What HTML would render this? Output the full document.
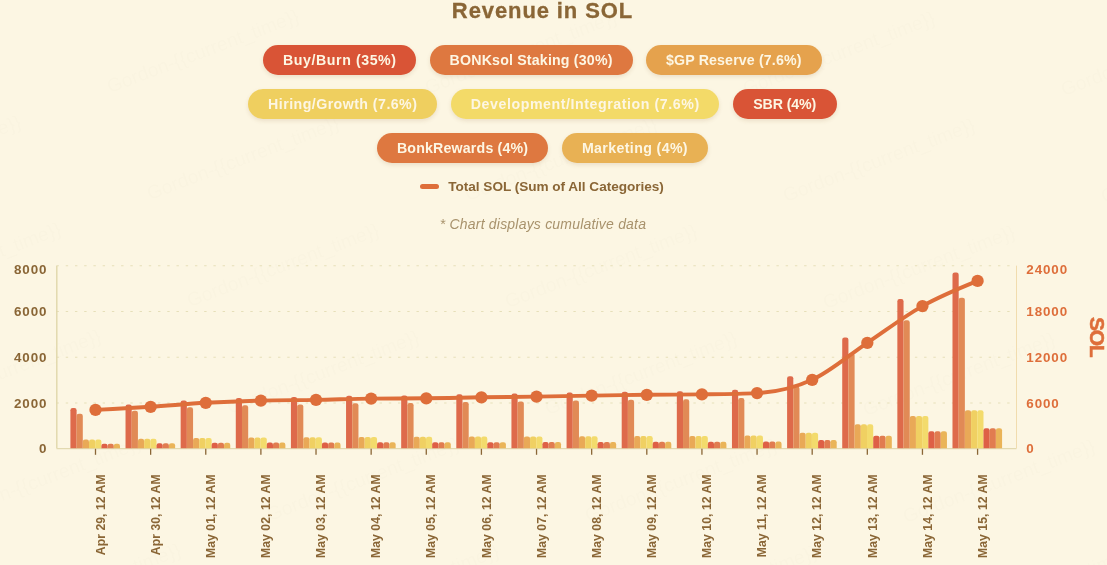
<!DOCTYPE html>
<html lang="en"><head><meta charset="utf-8"><title>Revenue in SOL</title>
<style>
html,body{margin:0;padding:0}
body{width:1107px;height:565px;overflow:hidden;position:relative;background:#fcf6e3;font-family:"Liberation Sans",sans-serif;}
.title{position:absolute;left:0;width:1085px;top:-3px;text-align:center;font-weight:bold;font-size:22px;line-height:28px;color:#8a6636;letter-spacing:0.9px;-webkit-text-stroke:0.3px #8a6636;white-space:nowrap}
.pill{position:absolute;height:30px;border-radius:15px;color:#fdf6e3;font-weight:bold;font-size:14.2px;line-height:30.8px;text-align:center;white-space:nowrap;box-shadow:0 2px 4px rgba(120,80,20,0.13)}
.legend{position:absolute;left:448.3px;top:178px;font-weight:bold;font-size:13.6px;line-height:18px;color:#8a6636;white-space:nowrap;letter-spacing:-0.03px}
.lmark{position:absolute;left:420px;top:184px;width:18.5px;height:5px;border-radius:2.5px;background:#de6e3a}
.note{position:absolute;left:439.8px;top:214.5px;font-style:italic;font-size:14px;line-height:18px;color:#a8926c;white-space:nowrap;letter-spacing:0.2px}
.chart{position:absolute;left:0;top:0}
.wm{position:absolute;font-size:19.3px;line-height:18px;color:rgba(90,70,40,0.012);white-space:nowrap;transform-origin:0 100%;transform:translateY(-18px) rotate(-20.7deg);pointer-events:none}
.yl{font-family:"Liberation Sans",sans-serif;font-weight:bold;font-size:13.4px;letter-spacing:0.9px}
.xl{font-family:"Liberation Sans",sans-serif;font-weight:bold;font-size:12.2px;letter-spacing:0.05px}
.sol{font-family:"Liberation Sans",sans-serif;font-weight:bold;font-size:21px;letter-spacing:-1.4px;stroke:#de6e3a;stroke-width:0.5px}
</style></head><body>
<div class="wm" style="left:-207px;top:95px">Gordon-{{current_time}}</div>
<div class="wm" style="left:-167px;top:202px">Gordon-{{current_time}}</div>
<div class="wm" style="left:-127px;top:309px">Gordon-{{current_time}}</div>
<div class="wm" style="left:-87px;top:416px">Gordon-{{current_time}}</div>
<div class="wm" style="left:-47px;top:523px">Gordon-{{current_time}}</div>
<div class="wm" style="left:-7px;top:630px">Gordon-{{current_time}}</div>
<div class="wm" style="left:71px;top:-11px">Gordon-{{current_time}}</div>
<div class="wm" style="left:111px;top:96px">Gordon-{{current_time}}</div>
<div class="wm" style="left:151px;top:203px">Gordon-{{current_time}}</div>
<div class="wm" style="left:191px;top:310px">Gordon-{{current_time}}</div>
<div class="wm" style="left:231px;top:417px">Gordon-{{current_time}}</div>
<div class="wm" style="left:271px;top:524px">Gordon-{{current_time}}</div>
<div class="wm" style="left:311px;top:631px">Gordon-{{current_time}}</div>
<div class="wm" style="left:389px;top:-10px">Gordon-{{current_time}}</div>
<div class="wm" style="left:429px;top:97px">Gordon-{{current_time}}</div>
<div class="wm" style="left:469px;top:204px">Gordon-{{current_time}}</div>
<div class="wm" style="left:509px;top:311px">Gordon-{{current_time}}</div>
<div class="wm" style="left:549px;top:418px">Gordon-{{current_time}}</div>
<div class="wm" style="left:589px;top:525px">Gordon-{{current_time}}</div>
<div class="wm" style="left:629px;top:632px">Gordon-{{current_time}}</div>
<div class="wm" style="left:707px;top:-9px">Gordon-{{current_time}}</div>
<div class="wm" style="left:747px;top:98px">Gordon-{{current_time}}</div>
<div class="wm" style="left:787px;top:205px">Gordon-{{current_time}}</div>
<div class="wm" style="left:827px;top:312px">Gordon-{{current_time}}</div>
<div class="wm" style="left:867px;top:419px">Gordon-{{current_time}}</div>
<div class="wm" style="left:907px;top:526px">Gordon-{{current_time}}</div>
<div class="wm" style="left:947px;top:633px">Gordon-{{current_time}}</div>
<div class="wm" style="left:1025px;top:-8px">Gordon-{{current_time}}</div>
<div class="wm" style="left:1065px;top:99px">Gordon-{{current_time}}</div>
<div class="wm" style="left:1105px;top:206px">Gordon-{{current_time}}</div>
<div class="title">Revenue in SOL</div>
<div class="pill" style="left:263px;top:45px;width:153px;background:#d95436;letter-spacing:0.566px;text-indent:0.566px">Buy/Burn (35%)</div>
<div class="pill" style="left:429.5px;top:45px;width:203px;background:#de7840;letter-spacing:0.178px;text-indent:0.178px">BONKsol Staking (30%)</div>
<div class="pill" style="left:646px;top:45px;width:175.5px;background:#e5a24d;letter-spacing:0.139px;text-indent:0.139px">$GP Reserve (7.6%)</div>
<div class="pill" style="left:248px;top:89px;width:189px;background:#efcf5f;letter-spacing:0.447px;text-indent:0.447px">Hiring/Growth (7.6%)</div>
<div class="pill" style="left:451px;top:89px;width:268px;background:#f3da68;letter-spacing:0.563px;text-indent:0.563px">Development/Integration (7.6%)</div>
<div class="pill" style="left:733px;top:89px;width:103.5px;background:#d95436;letter-spacing:-0.108px;text-indent:-0.108px">SBR (4%)</div>
<div class="pill" style="left:377px;top:133px;width:171px;background:#de7840;letter-spacing:0.179px;text-indent:0.179px">BonkRewards (4%)</div>
<div class="pill" style="left:562px;top:133px;width:145.5px;background:#e8b154;letter-spacing:0.369px;text-indent:0.369px">Marketing (4%)</div>
<div class="lmark"></div><div class="legend">Total SOL (Sum of All Categories)</div>
<div class="note">* Chart displays cumulative data</div>
<svg class="chart" width="1107" height="565" viewBox="0 0 1107 565">
<line x1="56.5" x2="1016.5" y1="265.80" y2="265.80" stroke="#e6dfb9" stroke-width="1.1" stroke-dasharray="2.4 6.83"/>
<line x1="56.5" x2="1016.5" y1="311.50" y2="311.50" stroke="#e6dfb9" stroke-width="1.1" stroke-dasharray="2.4 6.83"/>
<line x1="56.5" x2="1016.5" y1="357.30" y2="357.30" stroke="#e6dfb9" stroke-width="1.1" stroke-dasharray="2.4 6.83"/>
<line x1="56.5" x2="1016.5" y1="403.00" y2="403.00" stroke="#e6dfb9" stroke-width="1.1" stroke-dasharray="2.4 6.83"/>
<line x1="56.8" x2="56.8" y1="265.7" y2="448.3" stroke="#e0d7aa" stroke-width="1.4"/>
<line x1="1016.5" x2="1016.5" y1="265.7" y2="448.3" stroke="#f1dcae" stroke-width="1"/>
<line x1="56.5" x2="1016.5" y1="448.6" y2="448.6" stroke="#e2d9b0" stroke-width="1.2"/>
<path d="M70.40 448.3 V410.18 Q70.40 407.98 72.60 407.98 H74.40 Q76.60 407.98 76.60 410.18 V448.3 Z" fill="#de6a4b"/>
<path d="M76.60 448.3 V415.94 Q76.60 413.74 78.80 413.74 H80.60 Q82.80 413.74 82.80 415.94 V448.3 Z" fill="#e18a56"/>
<path d="M82.80 448.3 V441.74 Q82.80 439.54 85.00 439.54 H86.80 Q89.00 439.54 89.00 441.74 V448.3 Z" fill="#e9a957"/>
<path d="M89.00 448.3 V441.74 Q89.00 439.54 91.20 439.54 H93.00 Q95.20 439.54 95.20 441.74 V448.3 Z" fill="#f0d062"/>
<path d="M95.20 448.3 V441.74 Q95.20 439.54 97.40 439.54 H99.20 Q101.40 439.54 101.40 441.74 V448.3 Z" fill="#f3db6c"/>
<path d="M101.40 448.3 V445.89 Q101.40 443.69 103.60 443.69 H105.40 Q107.60 443.69 107.60 445.89 V448.3 Z" fill="#de6046"/>
<path d="M107.60 448.3 V445.89 Q107.60 443.69 109.80 443.69 H111.60 Q113.80 443.69 113.80 445.89 V448.3 Z" fill="#e17c50"/>
<path d="M113.80 448.3 V445.89 Q113.80 443.69 116.00 443.69 H117.80 Q120.00 443.69 120.00 445.89 V448.3 Z" fill="#eab458"/>
<path d="M125.53 448.3 V406.82 Q125.53 404.62 127.73 404.62 H129.53 Q131.73 404.62 131.73 406.82 V448.3 Z" fill="#de6a4b"/>
<path d="M131.73 448.3 V413.06 Q131.73 410.86 133.93 410.86 H135.73 Q137.93 410.86 137.93 413.06 V448.3 Z" fill="#e18a56"/>
<path d="M137.93 448.3 V441.02 Q137.93 438.82 140.13 438.82 H141.93 Q144.13 438.82 144.13 441.02 V448.3 Z" fill="#e9a957"/>
<path d="M144.13 448.3 V441.02 Q144.13 438.82 146.33 438.82 H148.13 Q150.33 438.82 150.33 441.02 V448.3 Z" fill="#f0d062"/>
<path d="M150.33 448.3 V441.02 Q150.33 438.82 152.53 438.82 H154.33 Q156.53 438.82 156.53 441.02 V448.3 Z" fill="#f3db6c"/>
<path d="M156.53 448.3 V445.51 Q156.53 443.31 158.73 443.31 H160.53 Q162.73 443.31 162.73 445.51 V448.3 Z" fill="#de6046"/>
<path d="M162.73 448.3 V445.51 Q162.73 443.31 164.93 443.31 H166.73 Q168.93 443.31 168.93 445.51 V448.3 Z" fill="#e17c50"/>
<path d="M168.93 448.3 V445.51 Q168.93 443.31 171.13 443.31 H172.93 Q175.13 443.31 175.13 445.51 V448.3 Z" fill="#eab458"/>
<path d="M180.66 448.3 V402.62 Q180.66 400.42 182.86 400.42 H184.66 Q186.86 400.42 186.86 402.62 V448.3 Z" fill="#de6a4b"/>
<path d="M186.86 448.3 V409.46 Q186.86 407.26 189.06 407.26 H190.86 Q193.06 407.26 193.06 409.46 V448.3 Z" fill="#e18a56"/>
<path d="M193.06 448.3 V440.10 Q193.06 437.90 195.26 437.90 H197.06 Q199.26 437.90 199.26 440.10 V448.3 Z" fill="#e9a957"/>
<path d="M199.26 448.3 V440.10 Q199.26 437.90 201.46 437.90 H203.26 Q205.46 437.90 205.46 440.10 V448.3 Z" fill="#f0d062"/>
<path d="M205.46 448.3 V440.10 Q205.46 437.90 207.66 437.90 H209.46 Q211.66 437.90 211.66 440.10 V448.3 Z" fill="#f3db6c"/>
<path d="M211.66 448.3 V445.03 Q211.66 442.83 213.86 442.83 H215.66 Q217.86 442.83 217.86 445.03 V448.3 Z" fill="#de6046"/>
<path d="M217.86 448.3 V445.03 Q217.86 442.83 220.06 442.83 H221.86 Q224.06 442.83 224.06 445.03 V448.3 Z" fill="#e17c50"/>
<path d="M224.06 448.3 V445.03 Q224.06 442.83 226.26 442.83 H228.06 Q230.26 442.83 230.26 445.03 V448.3 Z" fill="#eab458"/>
<path d="M235.79 448.3 V400.20 Q235.79 398.00 237.99 398.00 H239.79 Q241.99 398.00 241.99 400.20 V448.3 Z" fill="#de6a4b"/>
<path d="M241.99 448.3 V407.39 Q241.99 405.19 244.19 405.19 H245.99 Q248.19 405.19 248.19 407.39 V448.3 Z" fill="#e18a56"/>
<path d="M248.19 448.3 V439.58 Q248.19 437.38 250.39 437.38 H252.19 Q254.39 437.38 254.39 439.58 V448.3 Z" fill="#e9a957"/>
<path d="M254.39 448.3 V439.58 Q254.39 437.38 256.59 437.38 H258.39 Q260.59 437.38 260.59 439.58 V448.3 Z" fill="#f0d062"/>
<path d="M260.59 448.3 V439.58 Q260.59 437.38 262.79 437.38 H264.59 Q266.79 437.38 266.79 439.58 V448.3 Z" fill="#f3db6c"/>
<path d="M266.79 448.3 V444.75 Q266.79 442.55 268.99 442.55 H270.79 Q272.99 442.55 272.99 444.75 V448.3 Z" fill="#de6046"/>
<path d="M272.99 448.3 V444.75 Q272.99 442.55 275.19 442.55 H276.99 Q279.19 442.55 279.19 444.75 V448.3 Z" fill="#e17c50"/>
<path d="M279.19 448.3 V444.75 Q279.19 442.55 281.39 442.55 H283.19 Q285.39 442.55 285.39 444.75 V448.3 Z" fill="#eab458"/>
<path d="M290.92 448.3 V399.26 Q290.92 397.06 293.12 397.06 H294.92 Q297.12 397.06 297.12 399.26 V448.3 Z" fill="#de6a4b"/>
<path d="M297.12 448.3 V406.58 Q297.12 404.38 299.32 404.38 H301.12 Q303.32 404.38 303.32 406.58 V448.3 Z" fill="#e18a56"/>
<path d="M303.32 448.3 V439.37 Q303.32 437.17 305.52 437.17 H307.32 Q309.52 437.17 309.52 439.37 V448.3 Z" fill="#e9a957"/>
<path d="M309.52 448.3 V439.37 Q309.52 437.17 311.72 437.17 H313.52 Q315.72 437.17 315.72 439.37 V448.3 Z" fill="#f0d062"/>
<path d="M315.72 448.3 V439.37 Q315.72 437.17 317.92 437.17 H319.72 Q321.92 437.17 321.92 439.37 V448.3 Z" fill="#f3db6c"/>
<path d="M321.92 448.3 V444.64 Q321.92 442.44 324.12 442.44 H325.92 Q328.12 442.44 328.12 444.64 V448.3 Z" fill="#de6046"/>
<path d="M328.12 448.3 V444.64 Q328.12 442.44 330.32 442.44 H332.12 Q334.32 442.44 334.32 444.64 V448.3 Z" fill="#e17c50"/>
<path d="M334.32 448.3 V444.64 Q334.32 442.44 336.52 442.44 H338.32 Q340.52 442.44 340.52 444.64 V448.3 Z" fill="#eab458"/>
<path d="M346.05 448.3 V397.89 Q346.05 395.69 348.25 395.69 H350.05 Q352.25 395.69 352.25 397.89 V448.3 Z" fill="#de6a4b"/>
<path d="M352.25 448.3 V405.41 Q352.25 403.21 354.45 403.21 H356.25 Q358.45 403.21 358.45 405.41 V448.3 Z" fill="#e18a56"/>
<path d="M358.45 448.3 V439.08 Q358.45 436.88 360.65 436.88 H362.45 Q364.65 436.88 364.65 439.08 V448.3 Z" fill="#e9a957"/>
<path d="M364.65 448.3 V439.08 Q364.65 436.88 366.85 436.88 H368.65 Q370.85 436.88 370.85 439.08 V448.3 Z" fill="#f0d062"/>
<path d="M370.85 448.3 V439.08 Q370.85 436.88 373.05 436.88 H374.85 Q377.05 436.88 377.05 439.08 V448.3 Z" fill="#f3db6c"/>
<path d="M377.05 448.3 V444.49 Q377.05 442.29 379.25 442.29 H381.05 Q383.25 442.29 383.25 444.49 V448.3 Z" fill="#de6046"/>
<path d="M383.25 448.3 V444.49 Q383.25 442.29 385.45 442.29 H387.25 Q389.45 442.29 389.45 444.49 V448.3 Z" fill="#e17c50"/>
<path d="M389.45 448.3 V444.49 Q389.45 442.29 391.65 442.29 H393.45 Q395.65 442.29 395.65 444.49 V448.3 Z" fill="#eab458"/>
<path d="M401.18 448.3 V397.58 Q401.18 395.38 403.38 395.38 H405.18 Q407.38 395.38 407.38 397.58 V448.3 Z" fill="#de6a4b"/>
<path d="M407.38 448.3 V405.14 Q407.38 402.94 409.58 402.94 H411.38 Q413.58 402.94 413.58 405.14 V448.3 Z" fill="#e18a56"/>
<path d="M413.58 448.3 V439.01 Q413.58 436.81 415.78 436.81 H417.58 Q419.78 436.81 419.78 439.01 V448.3 Z" fill="#e9a957"/>
<path d="M419.78 448.3 V439.01 Q419.78 436.81 421.98 436.81 H423.78 Q425.98 436.81 425.98 439.01 V448.3 Z" fill="#f0d062"/>
<path d="M425.98 448.3 V439.01 Q425.98 436.81 428.18 436.81 H429.98 Q432.18 436.81 432.18 439.01 V448.3 Z" fill="#f3db6c"/>
<path d="M432.18 448.3 V444.45 Q432.18 442.25 434.38 442.25 H436.18 Q438.38 442.25 438.38 444.45 V448.3 Z" fill="#de6046"/>
<path d="M438.38 448.3 V444.45 Q438.38 442.25 440.58 442.25 H442.38 Q444.58 442.25 444.58 444.45 V448.3 Z" fill="#e17c50"/>
<path d="M444.58 448.3 V444.45 Q444.58 442.25 446.78 442.25 H448.58 Q450.78 442.25 450.78 444.45 V448.3 Z" fill="#eab458"/>
<path d="M456.31 448.3 V396.53 Q456.31 394.33 458.51 394.33 H460.31 Q462.51 394.33 462.51 396.53 V448.3 Z" fill="#de6a4b"/>
<path d="M462.51 448.3 V404.24 Q462.51 402.04 464.71 402.04 H466.51 Q468.71 402.04 468.71 404.24 V448.3 Z" fill="#e18a56"/>
<path d="M468.71 448.3 V438.78 Q468.71 436.58 470.91 436.58 H472.71 Q474.91 436.58 474.91 438.78 V448.3 Z" fill="#e9a957"/>
<path d="M474.91 448.3 V438.78 Q474.91 436.58 477.11 436.58 H478.91 Q481.11 436.58 481.11 438.78 V448.3 Z" fill="#f0d062"/>
<path d="M481.11 448.3 V438.78 Q481.11 436.58 483.31 436.58 H485.11 Q487.31 436.58 487.31 438.78 V448.3 Z" fill="#f3db6c"/>
<path d="M487.31 448.3 V444.33 Q487.31 442.13 489.51 442.13 H491.31 Q493.51 442.13 493.51 444.33 V448.3 Z" fill="#de6046"/>
<path d="M493.51 448.3 V444.33 Q493.51 442.13 495.71 442.13 H497.51 Q499.71 442.13 499.71 444.33 V448.3 Z" fill="#e17c50"/>
<path d="M499.71 448.3 V444.33 Q499.71 442.13 501.91 442.13 H503.71 Q505.91 442.13 505.91 444.33 V448.3 Z" fill="#eab458"/>
<path d="M511.44 448.3 V395.79 Q511.44 393.59 513.64 393.59 H515.44 Q517.64 393.59 517.64 395.79 V448.3 Z" fill="#de6a4b"/>
<path d="M517.64 448.3 V403.61 Q517.64 401.41 519.84 401.41 H521.64 Q523.84 401.41 523.84 403.61 V448.3 Z" fill="#e18a56"/>
<path d="M523.84 448.3 V438.62 Q523.84 436.42 526.04 436.42 H527.84 Q530.04 436.42 530.04 438.62 V448.3 Z" fill="#e9a957"/>
<path d="M530.04 448.3 V438.62 Q530.04 436.42 532.24 436.42 H534.04 Q536.24 436.42 536.24 438.62 V448.3 Z" fill="#f0d062"/>
<path d="M536.24 448.3 V438.62 Q536.24 436.42 538.44 436.42 H540.24 Q542.44 436.42 542.44 438.62 V448.3 Z" fill="#f3db6c"/>
<path d="M542.44 448.3 V444.25 Q542.44 442.05 544.64 442.05 H546.44 Q548.64 442.05 548.64 444.25 V448.3 Z" fill="#de6046"/>
<path d="M548.64 448.3 V444.25 Q548.64 442.05 550.84 442.05 H552.64 Q554.84 442.05 554.84 444.25 V448.3 Z" fill="#e17c50"/>
<path d="M554.84 448.3 V444.25 Q554.84 442.05 557.04 442.05 H558.84 Q561.04 442.05 561.04 444.25 V448.3 Z" fill="#eab458"/>
<path d="M566.57 448.3 V394.74 Q566.57 392.54 568.77 392.54 H570.57 Q572.77 392.54 572.77 394.74 V448.3 Z" fill="#de6a4b"/>
<path d="M572.77 448.3 V402.71 Q572.77 400.51 574.97 400.51 H576.77 Q578.97 400.51 578.97 402.71 V448.3 Z" fill="#e18a56"/>
<path d="M578.97 448.3 V438.39 Q578.97 436.19 581.17 436.19 H582.97 Q585.17 436.19 585.17 438.39 V448.3 Z" fill="#e9a957"/>
<path d="M585.17 448.3 V438.39 Q585.17 436.19 587.37 436.19 H589.17 Q591.37 436.19 591.37 438.39 V448.3 Z" fill="#f0d062"/>
<path d="M591.37 448.3 V438.39 Q591.37 436.19 593.57 436.19 H595.37 Q597.57 436.19 597.57 438.39 V448.3 Z" fill="#f3db6c"/>
<path d="M597.57 448.3 V444.13 Q597.57 441.93 599.77 441.93 H601.57 Q603.77 441.93 603.77 444.13 V448.3 Z" fill="#de6046"/>
<path d="M603.77 448.3 V444.13 Q603.77 441.93 605.97 441.93 H607.77 Q609.97 441.93 609.97 444.13 V448.3 Z" fill="#e17c50"/>
<path d="M609.97 448.3 V444.13 Q609.97 441.93 612.17 441.93 H613.97 Q616.17 441.93 616.17 444.13 V448.3 Z" fill="#eab458"/>
<path d="M621.70 448.3 V393.90 Q621.70 391.70 623.90 391.70 H625.70 Q627.90 391.70 627.90 393.90 V448.3 Z" fill="#de6a4b"/>
<path d="M627.90 448.3 V401.99 Q627.90 399.79 630.10 399.79 H631.90 Q634.10 399.79 634.10 401.99 V448.3 Z" fill="#e18a56"/>
<path d="M634.10 448.3 V438.21 Q634.10 436.01 636.30 436.01 H638.10 Q640.30 436.01 640.30 438.21 V448.3 Z" fill="#e9a957"/>
<path d="M640.30 448.3 V438.21 Q640.30 436.01 642.50 436.01 H644.30 Q646.50 436.01 646.50 438.21 V448.3 Z" fill="#f0d062"/>
<path d="M646.50 448.3 V438.21 Q646.50 436.01 648.70 436.01 H650.50 Q652.70 436.01 652.70 438.21 V448.3 Z" fill="#f3db6c"/>
<path d="M652.70 448.3 V444.03 Q652.70 441.83 654.90 441.83 H656.70 Q658.90 441.83 658.90 444.03 V448.3 Z" fill="#de6046"/>
<path d="M658.90 448.3 V444.03 Q658.90 441.83 661.10 441.83 H662.90 Q665.10 441.83 665.10 444.03 V448.3 Z" fill="#e17c50"/>
<path d="M665.10 448.3 V444.03 Q665.10 441.83 667.30 441.83 H669.10 Q671.30 441.83 671.30 444.03 V448.3 Z" fill="#eab458"/>
<path d="M676.83 448.3 V393.38 Q676.83 391.18 679.03 391.18 H680.83 Q683.03 391.18 683.03 393.38 V448.3 Z" fill="#de6a4b"/>
<path d="M683.03 448.3 V401.54 Q683.03 399.34 685.23 399.34 H687.03 Q689.23 399.34 689.23 401.54 V448.3 Z" fill="#e18a56"/>
<path d="M689.23 448.3 V438.10 Q689.23 435.90 691.43 435.90 H693.23 Q695.43 435.90 695.43 438.10 V448.3 Z" fill="#e9a957"/>
<path d="M695.43 448.3 V438.10 Q695.43 435.90 697.63 435.90 H699.43 Q701.63 435.90 701.63 438.10 V448.3 Z" fill="#f0d062"/>
<path d="M701.63 448.3 V438.10 Q701.63 435.90 703.83 435.90 H705.63 Q707.83 435.90 707.83 438.10 V448.3 Z" fill="#f3db6c"/>
<path d="M707.83 448.3 V443.97 Q707.83 441.77 710.03 441.77 H711.83 Q714.03 441.77 714.03 443.97 V448.3 Z" fill="#de6046"/>
<path d="M714.03 448.3 V443.97 Q714.03 441.77 716.23 441.77 H718.03 Q720.23 441.77 720.23 443.97 V448.3 Z" fill="#e17c50"/>
<path d="M720.23 448.3 V443.97 Q720.23 441.77 722.43 441.77 H724.23 Q726.43 441.77 726.43 443.97 V448.3 Z" fill="#eab458"/>
<path d="M731.96 448.3 V391.91 Q731.96 389.71 734.16 389.71 H735.96 Q738.16 389.71 738.16 391.91 V448.3 Z" fill="#de6a4b"/>
<path d="M738.16 448.3 V400.28 Q738.16 398.08 740.36 398.08 H742.16 Q744.36 398.08 744.36 400.28 V448.3 Z" fill="#e18a56"/>
<path d="M744.36 448.3 V437.78 Q744.36 435.58 746.56 435.58 H748.36 Q750.56 435.58 750.56 437.78 V448.3 Z" fill="#e9a957"/>
<path d="M750.56 448.3 V437.78 Q750.56 435.58 752.76 435.58 H754.56 Q756.76 435.58 756.76 437.78 V448.3 Z" fill="#f0d062"/>
<path d="M756.76 448.3 V437.78 Q756.76 435.58 758.96 435.58 H760.76 Q762.96 435.58 762.96 437.78 V448.3 Z" fill="#f3db6c"/>
<path d="M762.96 448.3 V443.80 Q762.96 441.60 765.16 441.60 H766.96 Q769.16 441.60 769.16 443.80 V448.3 Z" fill="#de6046"/>
<path d="M769.16 448.3 V443.80 Q769.16 441.60 771.36 441.60 H773.16 Q775.36 441.60 775.36 443.80 V448.3 Z" fill="#e17c50"/>
<path d="M775.36 448.3 V443.80 Q775.36 441.60 777.56 441.60 H779.36 Q781.56 441.60 781.56 443.80 V448.3 Z" fill="#eab458"/>
<path d="M787.09 448.3 V378.37 Q787.09 376.17 789.29 376.17 H791.09 Q793.29 376.17 793.29 378.37 V448.3 Z" fill="#de6a4b"/>
<path d="M793.29 448.3 V388.67 Q793.29 386.47 795.49 386.47 H797.29 Q799.49 386.47 799.49 388.67 V448.3 Z" fill="#e18a56"/>
<path d="M799.49 448.3 V434.84 Q799.49 432.64 801.69 432.64 H803.49 Q805.69 432.64 805.69 434.84 V448.3 Z" fill="#e9a957"/>
<path d="M805.69 448.3 V434.84 Q805.69 432.64 807.89 432.64 H809.69 Q811.89 432.64 811.89 434.84 V448.3 Z" fill="#f0d062"/>
<path d="M811.89 448.3 V434.84 Q811.89 432.64 814.09 432.64 H815.89 Q818.09 432.64 818.09 434.84 V448.3 Z" fill="#f3db6c"/>
<path d="M818.09 448.3 V442.26 Q818.09 440.06 820.29 440.06 H822.09 Q824.29 440.06 824.29 442.26 V448.3 Z" fill="#de6046"/>
<path d="M824.29 448.3 V442.26 Q824.29 440.06 826.49 440.06 H828.29 Q830.49 440.06 830.49 442.26 V448.3 Z" fill="#e17c50"/>
<path d="M830.49 448.3 V442.26 Q830.49 440.06 832.69 440.06 H834.49 Q836.69 440.06 836.69 442.26 V448.3 Z" fill="#eab458"/>
<path d="M842.22 448.3 V339.72 Q842.22 337.52 844.42 337.52 H846.22 Q848.42 337.52 848.42 339.72 V448.3 Z" fill="#de6a4b"/>
<path d="M848.42 448.3 V355.55 Q848.42 353.35 850.62 353.35 H852.42 Q854.62 353.35 854.62 355.55 V448.3 Z" fill="#e18a56"/>
<path d="M854.62 448.3 V426.45 Q854.62 424.25 856.82 424.25 H858.62 Q860.82 424.25 860.82 426.45 V448.3 Z" fill="#e9a957"/>
<path d="M860.82 448.3 V426.45 Q860.82 424.25 863.02 424.25 H864.82 Q867.02 424.25 867.02 426.45 V448.3 Z" fill="#f0d062"/>
<path d="M867.02 448.3 V426.45 Q867.02 424.25 869.22 424.25 H871.02 Q873.22 424.25 873.22 426.45 V448.3 Z" fill="#f3db6c"/>
<path d="M873.22 448.3 V437.84 Q873.22 435.64 875.42 435.64 H877.22 Q879.42 435.64 879.42 437.84 V448.3 Z" fill="#de6046"/>
<path d="M879.42 448.3 V437.84 Q879.42 435.64 881.62 435.64 H883.42 Q885.62 435.64 885.62 437.84 V448.3 Z" fill="#e17c50"/>
<path d="M885.62 448.3 V437.84 Q885.62 435.64 887.82 435.64 H889.62 Q891.82 435.64 891.82 437.84 V448.3 Z" fill="#eab458"/>
<path d="M897.35 448.3 V301.19 Q897.35 298.99 899.55 298.99 H901.35 Q903.55 298.99 903.55 301.19 V448.3 Z" fill="#de6a4b"/>
<path d="M903.55 448.3 V322.52 Q903.55 320.32 905.75 320.32 H907.55 Q909.75 320.32 909.75 322.52 V448.3 Z" fill="#e18a56"/>
<path d="M909.75 448.3 V418.08 Q909.75 415.88 911.95 415.88 H913.75 Q915.95 415.88 915.95 418.08 V448.3 Z" fill="#e9a957"/>
<path d="M915.95 448.3 V418.08 Q915.95 415.88 918.15 415.88 H919.95 Q922.15 415.88 922.15 418.08 V448.3 Z" fill="#f0d062"/>
<path d="M922.15 448.3 V418.08 Q922.15 415.88 924.35 415.88 H926.15 Q928.35 415.88 928.35 418.08 V448.3 Z" fill="#f3db6c"/>
<path d="M928.35 448.3 V433.44 Q928.35 431.24 930.55 431.24 H932.35 Q934.55 431.24 934.55 433.44 V448.3 Z" fill="#de6046"/>
<path d="M934.55 448.3 V433.44 Q934.55 431.24 936.75 431.24 H938.55 Q940.75 431.24 940.75 433.44 V448.3 Z" fill="#e17c50"/>
<path d="M940.75 448.3 V433.44 Q940.75 431.24 942.95 431.24 H944.75 Q946.95 431.24 946.95 433.44 V448.3 Z" fill="#eab458"/>
<path d="M952.48 448.3 V274.73 Q952.48 272.53 954.68 272.53 H956.48 Q958.68 272.53 958.68 274.73 V448.3 Z" fill="#de6a4b"/>
<path d="M958.68 448.3 V299.84 Q958.68 297.64 960.88 297.64 H962.68 Q964.88 297.64 964.88 299.84 V448.3 Z" fill="#e18a56"/>
<path d="M964.88 448.3 V412.33 Q964.88 410.13 967.08 410.13 H968.88 Q971.08 410.13 971.08 412.33 V448.3 Z" fill="#e9a957"/>
<path d="M971.08 448.3 V412.33 Q971.08 410.13 973.28 410.13 H975.08 Q977.28 410.13 977.28 412.33 V448.3 Z" fill="#f0d062"/>
<path d="M977.28 448.3 V412.33 Q977.28 410.13 979.48 410.13 H981.28 Q983.48 410.13 983.48 412.33 V448.3 Z" fill="#f3db6c"/>
<path d="M983.48 448.3 V430.41 Q983.48 428.21 985.68 428.21 H987.48 Q989.68 428.21 989.68 430.41 V448.3 Z" fill="#de6046"/>
<path d="M989.68 448.3 V430.41 Q989.68 428.21 991.88 428.21 H993.68 Q995.88 428.21 995.88 430.41 V448.3 Z" fill="#e17c50"/>
<path d="M995.88 448.3 V430.41 Q995.88 428.21 998.08 428.21 H999.88 Q1002.08 428.21 1002.08 430.41 V448.3 Z" fill="#eab458"/>
<line x1="95.50" x2="95.50" y1="448.8" y2="454.8" stroke="#8a6636" stroke-width="1.3"/>
<line x1="150.63" x2="150.63" y1="448.8" y2="454.8" stroke="#8a6636" stroke-width="1.3"/>
<line x1="205.76" x2="205.76" y1="448.8" y2="454.8" stroke="#8a6636" stroke-width="1.3"/>
<line x1="260.89" x2="260.89" y1="448.8" y2="454.8" stroke="#8a6636" stroke-width="1.3"/>
<line x1="316.02" x2="316.02" y1="448.8" y2="454.8" stroke="#8a6636" stroke-width="1.3"/>
<line x1="371.15" x2="371.15" y1="448.8" y2="454.8" stroke="#8a6636" stroke-width="1.3"/>
<line x1="426.28" x2="426.28" y1="448.8" y2="454.8" stroke="#8a6636" stroke-width="1.3"/>
<line x1="481.41" x2="481.41" y1="448.8" y2="454.8" stroke="#8a6636" stroke-width="1.3"/>
<line x1="536.54" x2="536.54" y1="448.8" y2="454.8" stroke="#8a6636" stroke-width="1.3"/>
<line x1="591.67" x2="591.67" y1="448.8" y2="454.8" stroke="#8a6636" stroke-width="1.3"/>
<line x1="646.80" x2="646.80" y1="448.8" y2="454.8" stroke="#8a6636" stroke-width="1.3"/>
<line x1="701.93" x2="701.93" y1="448.8" y2="454.8" stroke="#8a6636" stroke-width="1.3"/>
<line x1="757.06" x2="757.06" y1="448.8" y2="454.8" stroke="#8a6636" stroke-width="1.3"/>
<line x1="812.19" x2="812.19" y1="448.8" y2="454.8" stroke="#8a6636" stroke-width="1.3"/>
<line x1="867.32" x2="867.32" y1="448.8" y2="454.8" stroke="#8a6636" stroke-width="1.3"/>
<line x1="922.45" x2="922.45" y1="448.8" y2="454.8" stroke="#8a6636" stroke-width="1.3"/>
<line x1="977.58" x2="977.58" y1="448.8" y2="454.8" stroke="#8a6636" stroke-width="1.3"/>
<path d="M95.50 409.90C113.88 408.94 132.25 407.98 150.63 406.80C169.01 405.62 187.38 403.83 205.76 402.80C224.14 401.77 242.51 401.07 260.89 400.60C279.27 400.13 297.64 400.23 316.02 399.90C334.40 399.57 352.77 398.80 371.15 398.60C389.53 398.40 407.90 398.50 426.28 398.30C444.66 398.10 463.03 397.58 481.41 397.30C499.79 397.02 518.16 396.88 536.54 396.60C554.92 396.32 573.29 395.90 591.67 395.60C610.05 395.30 628.42 395.00 646.80 394.80C665.18 394.60 683.55 394.67 701.93 394.40C720.31 394.13 738.68 393.97 757.06 393.10C775.44 392.23 793.81 388.18 812.19 379.80C830.57 371.42 848.94 355.08 867.32 342.80C885.70 330.52 904.07 316.42 922.45 306.10C940.83 295.78 959.20 288.34 977.58 280.90" fill="none" stroke="#de6e3a" stroke-width="3.9" stroke-linecap="round"/>
<circle cx="95.50" cy="409.90" r="6.15" fill="#de6e3a"/>
<circle cx="150.63" cy="406.80" r="6.15" fill="#de6e3a"/>
<circle cx="205.76" cy="402.80" r="6.15" fill="#de6e3a"/>
<circle cx="260.89" cy="400.60" r="6.15" fill="#de6e3a"/>
<circle cx="316.02" cy="399.90" r="6.15" fill="#de6e3a"/>
<circle cx="371.15" cy="398.60" r="6.15" fill="#de6e3a"/>
<circle cx="426.28" cy="398.30" r="6.15" fill="#de6e3a"/>
<circle cx="481.41" cy="397.30" r="6.15" fill="#de6e3a"/>
<circle cx="536.54" cy="396.60" r="6.15" fill="#de6e3a"/>
<circle cx="591.67" cy="395.60" r="6.15" fill="#de6e3a"/>
<circle cx="646.80" cy="394.80" r="6.15" fill="#de6e3a"/>
<circle cx="701.93" cy="394.40" r="6.15" fill="#de6e3a"/>
<circle cx="757.06" cy="393.10" r="6.15" fill="#de6e3a"/>
<circle cx="812.19" cy="379.80" r="6.15" fill="#de6e3a"/>
<circle cx="867.32" cy="342.80" r="6.15" fill="#de6e3a"/>
<circle cx="922.45" cy="306.10" r="6.15" fill="#de6e3a"/>
<circle cx="977.58" cy="280.90" r="6.15" fill="#de6e3a"/>
<text x="47.4" y="274.30" text-anchor="end" class="yl" fill="#8a6636">8000</text>
<text x="47.4" y="316.35" text-anchor="end" class="yl" fill="#8a6636">6000</text>
<text x="47.4" y="362.00" text-anchor="end" class="yl" fill="#8a6636">4000</text>
<text x="47.4" y="407.65" text-anchor="end" class="yl" fill="#8a6636">2000</text>
<text x="47.4" y="452.90" text-anchor="end" class="yl" fill="#8a6636">0</text>
<text x="1026.3" y="274.30" text-anchor="start" class="yl" fill="#de6e3a">24000</text>
<text x="1026.3" y="316.35" text-anchor="start" class="yl" fill="#de6e3a">18000</text>
<text x="1026.3" y="362.00" text-anchor="start" class="yl" fill="#de6e3a">12000</text>
<text x="1026.3" y="407.65" text-anchor="start" class="yl" fill="#de6e3a">6000</text>
<text x="1026.3" y="452.90" text-anchor="start" class="yl" fill="#de6e3a">0</text>
<text transform="translate(104.70 474.4) rotate(-90)" text-anchor="end" class="xl" fill="#8a6636">Apr 29, 12 AM</text>
<text transform="translate(159.83 474.4) rotate(-90)" text-anchor="end" class="xl" fill="#8a6636">Apr 30, 12 AM</text>
<text transform="translate(214.96 474.4) rotate(-90)" text-anchor="end" class="xl" fill="#8a6636">May 01, 12 AM</text>
<text transform="translate(270.09 474.4) rotate(-90)" text-anchor="end" class="xl" fill="#8a6636">May 02, 12 AM</text>
<text transform="translate(325.22 474.4) rotate(-90)" text-anchor="end" class="xl" fill="#8a6636">May 03, 12 AM</text>
<text transform="translate(380.35 474.4) rotate(-90)" text-anchor="end" class="xl" fill="#8a6636">May 04, 12 AM</text>
<text transform="translate(435.48 474.4) rotate(-90)" text-anchor="end" class="xl" fill="#8a6636">May 05, 12 AM</text>
<text transform="translate(490.61 474.4) rotate(-90)" text-anchor="end" class="xl" fill="#8a6636">May 06, 12 AM</text>
<text transform="translate(545.74 474.4) rotate(-90)" text-anchor="end" class="xl" fill="#8a6636">May 07, 12 AM</text>
<text transform="translate(600.87 474.4) rotate(-90)" text-anchor="end" class="xl" fill="#8a6636">May 08, 12 AM</text>
<text transform="translate(656.00 474.4) rotate(-90)" text-anchor="end" class="xl" fill="#8a6636">May 09, 12 AM</text>
<text transform="translate(711.13 474.4) rotate(-90)" text-anchor="end" class="xl" fill="#8a6636">May 10, 12 AM</text>
<text transform="translate(766.26 474.4) rotate(-90)" text-anchor="end" class="xl" fill="#8a6636">May 11, 12 AM</text>
<text transform="translate(821.39 474.4) rotate(-90)" text-anchor="end" class="xl" fill="#8a6636">May 12, 12 AM</text>
<text transform="translate(876.52 474.4) rotate(-90)" text-anchor="end" class="xl" fill="#8a6636">May 13, 12 AM</text>
<text transform="translate(931.65 474.4) rotate(-90)" text-anchor="end" class="xl" fill="#8a6636">May 14, 12 AM</text>
<text transform="translate(986.78 474.4) rotate(-90)" text-anchor="end" class="xl" fill="#8a6636">May 15, 12 AM</text>
<text transform="translate(1090 336.6) rotate(90)" text-anchor="middle" class="sol" fill="#de6e3a">SOL</text>
</svg>
</body></html>
